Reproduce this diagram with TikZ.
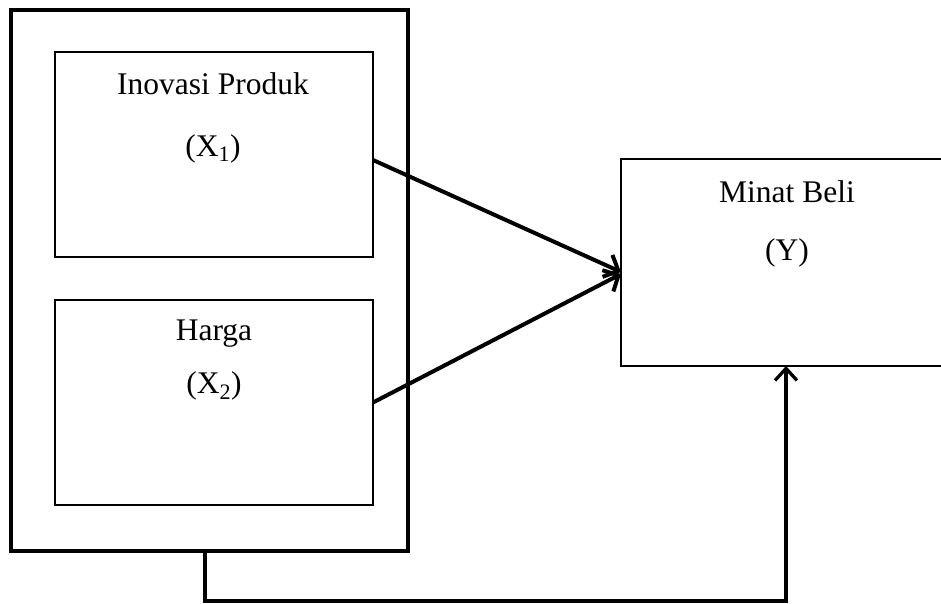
\documentclass[tikz,border=0pt]{standalone}
\usepackage{fontspec}
\setmainfont{Liberation Serif}
\usetikzlibrary{arrows.meta}
\begin{document}
\begin{tikzpicture}[x=1pt,y=-1pt,
  box/.style={draw, line width=2.8pt, inner sep=0pt, outer sep=0pt},
  frame/.style={draw, line width=4.2pt, inner sep=0pt, outer sep=0pt},
  lbl/.style={anchor=base, inner sep=0pt, font=\fontsize{31.5}{36}\selectfont},
  arr/.style={line width=4pt, -{Straight Barb[length=12pt,width=24pt,line width=4pt]}},
  link/.style={line width=3.3pt, -{Straight Barb[length=12pt,width=22pt,line width=3.3pt]}}]
\useasboundingbox (0,0) rectangle (941,603);
\clip (0,0) rectangle (941,603);

% outer frame grouping the two independent variables
\node[frame, minimum width=397pt, minimum height=541pt] (outer) at (209.5,280.5) {};
% independent variables
\node[box, minimum width=318pt, minimum height=205pt] (x1) at (214,154.5) {};
\node[box, minimum width=318pt, minimum height=205pt] (x2) at (214,402.5) {};
% dependent variable (right edge runs off the page)
\node[box, minimum width=326pt, minimum height=207pt] (y) at (784,262.5) {};

% labels
\node[lbl] (t1a) at (213,94) {Inovasi Produk};
\node[lbl] (t1b) at (213,156) {(X\textsubscript{1})};
\node[lbl] (t2a) at (214,340) {Harga};
\node[lbl] (t2b) at (214,393) {(X\textsubscript{2})};
\node[lbl] (tya) at (787,202) {Minat Beli};
\node[lbl] (tyb) at (787,260) {(Y)};

% partial effects
\draw[arr] ([yshift=-5.5pt]x1.east) -- ([yshift=-9.5pt]y.west);
\draw[arr] (x2.east) -- ([yshift=-11.5pt]y.west);

% simultaneous effect
\coordinate (corner) at (786,601);
\draw[link] ([xshift=-4.5pt]outer.south) |- (corner) -- (corner |- y.south);
\end{tikzpicture}
\end{document}
